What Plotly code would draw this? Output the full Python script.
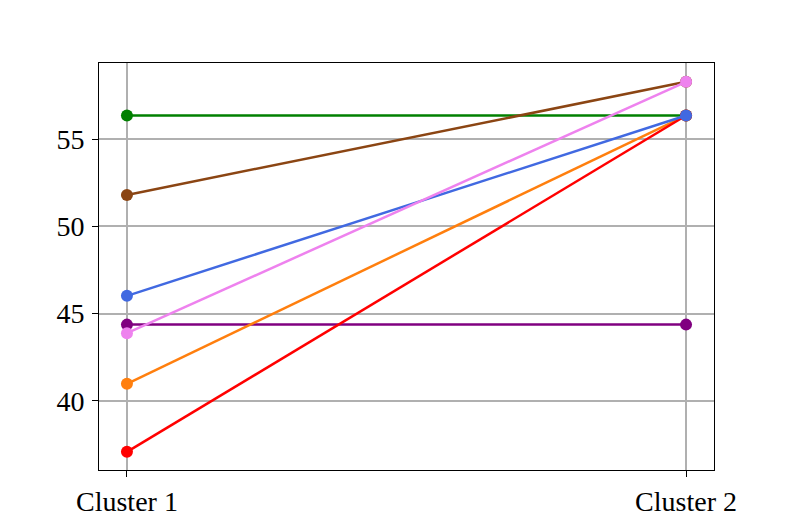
import plotly.graph_objects as go

clusters = ['Cluster 1', 'Cluster 2']

# one line per group
green = [56.35, 56.35]
purple = [44.37, 44.37]
brown = [51.8, 58.28]
orange = [40.98, 56.35]
red = [37.08, 56.35]
blue = [46.02, 56.35]
violet = [43.88, 58.28]

series = [
    (green, 'green'),
    (purple, 'purple'),
    (brown, 'saddlebrown'),
    (orange, '#ff7f0e'),
    (red, 'red'),
    (blue, 'royalblue'),
    (violet, 'violet'),
]

fig = go.Figure()
for vals, col in series:
    fig.add_trace(go.Scatter(x=[0, 1], y=vals, mode='lines+markers',
                             line=dict(color=col, width=2.5),
                             marker=dict(color=col, size=12),
                             showlegend=False))

axis_style = dict(showline=True, linecolor='black', linewidth=1, mirror=True,
                  showgrid=True, gridcolor='#b0b0b0', gridwidth=1.5,
                  ticks='outside', ticklen=6, tickcolor='black',
                  zeroline=False,
                  tickfont=dict(family='Liberation Serif', size=28, color='black'))

fig.update_xaxes(range=[-0.05, 1.05], tickvals=[0, 1], ticktext=clusters,
                 ticklabelstandoff=0, **axis_style)
fig.update_yaxes(range=[36.04, 59.36], tickvals=[40, 45, 50, 55],
                 ticklabelstandoff=2, **axis_style)

# page body adds an 8px offset, so margins are shifted to compensate
fig.update_layout(width=793, height=529,
                  margin=dict(l=91, r=87, t=55, b=67, autoexpand=False),
                  plot_bgcolor='white', paper_bgcolor='white')

fig.write_html("out.html")
